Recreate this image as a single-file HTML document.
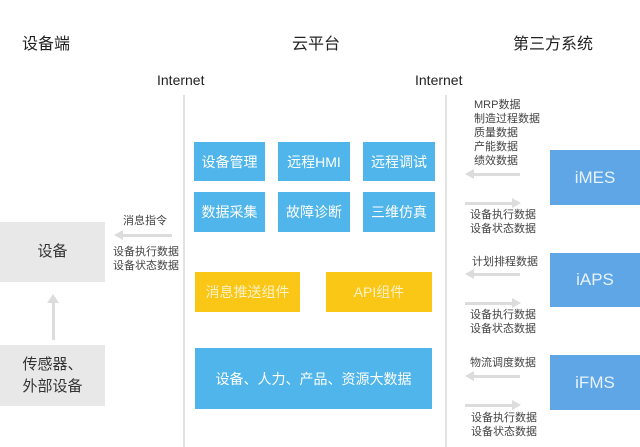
<!DOCTYPE html>
<html><head><meta charset="utf-8"><style>
body{margin:0;width:640px;height:447px;background:#fff;position:relative;overflow:hidden;font-family:"Liberation Sans","Noto Sans CJK SC",sans-serif;}
.a{position:absolute;}
.b{position:absolute;display:flex;align-items:center;justify-content:center;color:#fff;font-size:14px;}
.bl{background:#4fb5ea;}
.y{background:#fbc716;color:#fdf1c8;}
.g{background:#e8e8e8;color:#333;font-size:15px;line-height:22px;text-align:center;}
.r{background:#5ea6e6;color:#e8f2fc;font-size:17px;}
.t{position:absolute;font-size:11px;color:#444;line-height:14px;}
.h{position:absolute;font-size:16px;color:#222;}
.vl{position:absolute;width:2px;background:#e3e3e3;}
.ar{position:absolute;height:3px;background:#dcdcdc;}
</style></head><body>
<div class="h" style="left:22px;top:30px">设备端</div>
<div class="h" style="left:292px;top:30px">云平台</div>
<div class="h" style="left:513px;top:30px">第三方系统</div>
<div class="h" style="left:157px;top:72px;font-size:14px">Internet</div>
<div class="h" style="left:415px;top:72px;font-size:14px">Internet</div>
<div class="vl" style="left:183px;top:95px;height:352px"></div>
<div class="vl" style="left:445px;top:95px;height:352px"></div>

<div class="b bl" style="left:194px;top:142px;width:71px;height:39px">设备管理</div>
<div class="b bl" style="left:278px;top:142px;width:72px;height:39px">远程HMI</div>
<div class="b bl" style="left:363px;top:142px;width:72px;height:39px">远程调试</div>
<div class="b bl" style="left:194px;top:192px;width:71px;height:40px">数据采集</div>
<div class="b bl" style="left:278px;top:192px;width:72px;height:40px">故障诊断</div>
<div class="b bl" style="left:363px;top:192px;width:72px;height:40px">三维仿真</div>
<div class="b y" style="left:195px;top:272px;width:105px;height:40px">消息推送组件</div>
<div class="b y" style="left:326px;top:272px;width:106px;height:40px">API组件</div>
<div class="b bl" style="left:195px;top:348px;width:237px;height:61px">设备、人力、产品、资源大数据</div>

<div class="b g" style="left:0;top:222px;width:105px;height:60px">设备</div>
<div class="b g" style="left:0;top:345px;width:105px;height:61px">传感器、<br>外部设备</div>
<div class="a" style="left:52px;top:300px;width:3px;height:40px;background:#dcdcdc"></div>
<div class="a" style="left:47px;top:294px;border-left:6px solid transparent;border-right:6px solid transparent;border-bottom:9px solid #dcdcdc"></div>

<div class="t" style="left:123px;top:214px">消息指令</div>
<div class="ar" style="left:122px;top:234px;width:50px"></div>
<div class="a" style="left:114px;top:230px;border-top:5px solid transparent;border-bottom:5px solid transparent;border-right:9px solid #dcdcdc"></div>
<div class="t" style="left:113px;top:245px">设备执行数据<br>设备状态数据</div>

<div class="b r" style="left:550px;top:150px;width:90px;height:55px">iMES</div>
<div class="b r" style="left:550px;top:253px;width:90px;height:54px">iAPS</div>
<div class="b r" style="left:550px;top:355px;width:90px;height:55px">iFMS</div>

<div class="t" style="left:474px;top:98px">MRP数据<br>制造过程数据<br>质量数据<br>产能数据<br>绩效数据</div>
<div class="ar" style="left:472px;top:173px;width:48px"></div>
<div class="a" style="left:465px;top:169px;border-top:5px solid transparent;border-bottom:5px solid transparent;border-right:9px solid #dcdcdc"></div>
<div class="ar" style="left:465px;top:202px;width:48px"></div>
<div class="a" style="left:512px;top:198px;border-top:5px solid transparent;border-bottom:5px solid transparent;border-left:9px solid #dcdcdc"></div>
<div class="t" style="left:470px;top:208px">设备执行数据<br>设备状态数据</div>

<div class="t" style="left:472px;top:255px">计划排程数据</div>
<div class="ar" style="left:472px;top:273px;width:48px"></div>
<div class="a" style="left:465px;top:269px;border-top:5px solid transparent;border-bottom:5px solid transparent;border-right:9px solid #dcdcdc"></div>
<div class="ar" style="left:465px;top:302px;width:48px"></div>
<div class="a" style="left:512px;top:298px;border-top:5px solid transparent;border-bottom:5px solid transparent;border-left:9px solid #dcdcdc"></div>
<div class="t" style="left:470px;top:308px">设备执行数据<br>设备状态数据</div>

<div class="t" style="left:470px;top:356px">物流调度数据</div>
<div class="ar" style="left:472px;top:375px;width:48px"></div>
<div class="a" style="left:465px;top:371px;border-top:5px solid transparent;border-bottom:5px solid transparent;border-right:9px solid #dcdcdc"></div>
<div class="ar" style="left:465px;top:404px;width:48px"></div>
<div class="a" style="left:512px;top:400px;border-top:5px solid transparent;border-bottom:5px solid transparent;border-left:9px solid #dcdcdc"></div>
<div class="t" style="left:471px;top:411px">设备执行数据<br>设备状态数据</div>
</body></html>
